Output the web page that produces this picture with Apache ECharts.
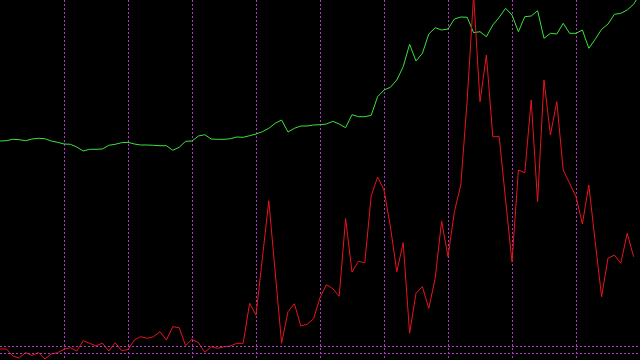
<!DOCTYPE html>
<html>
<head>
<meta charset="utf-8">
<script src="https://cdn.jsdelivr.net/npm/echarts@6/dist/echarts.min.js"></script>
<style>
html,body{margin:0;padding:0;background:#000;}
#chart{width:640px;height:360px;}
</style>
</head>
<body>
<div id="chart"></div>
<script>
// Category positions (index of each sample)
const categories = Array.from({length: 101}, (_, i) => String(i));

// Upper (green) series values
const greenValues = [
  219, 219.3, 220.7, 220.3, 219.3, 221, 221.7, 221.3, 219, 217.7,
  216, 215.7, 213, 209, 210.7, 210.7, 211, 214.7, 215.7, 217.3,
  217.7, 216, 215, 215, 214.7, 214.3, 214.3, 209.7, 212.7, 218.7,
  219, 224, 225.3, 221, 220.7, 220.7, 221.3, 223, 222.7, 224.3,
  226, 228.3, 231.7, 236.7, 240, 228, 231.7, 234, 234, 235,
  235.3, 236, 238.7, 236, 232.3, 245.3, 243.3, 243.3, 244.7, 263.3,
  270, 272.7, 280, 293.3, 315.7, 299, 306.7, 326, 332.3, 330,
  331, 341, 343, 342.7, 327.3, 328.3, 323.3, 335, 342.7, 351.7,
  345, 328.3, 343.3, 344, 349.3, 321.7, 326.7, 326, 336.7, 326.7,
  326.7, 330, 311.7, 320.7, 330.7, 336, 345.7, 346.7, 350, 355.7,
  366
];

// Lower (red) series values
const redValues = [
  11, 11, 4, 2, 7.5, 4.5, 7.5, 1, 6, 7.3,
  10.7, 12.3, 9, 19.3, 16.7, 14, 17, 9, 17.3, 9.3,
  10.5, 20, 23.3, 21.7, 23.3, 28.3, 20, 33.3, 32.3, 14.3,
  20.7, 17.3, 7.7, 13.3, 11.7, 13.3, 14, 16.7, 16.7, 56.7,
  45, 102, 159.3, 88, 16.7, 48.3, 56.3, 34, 35.7, 41.3,
  62.3, 75.3, 71.3, 63.7, 141.5, 88, 98.7, 97.3, 164, 183,
  170, 133.3, 88.3, 117.3, 26.7, 66.7, 73.3, 51.7, 81.7, 139,
  103.3, 148.3, 175, 260, 365, 258.3, 305, 223.3, 223.3, 160,
  98, 190, 187.3, 260, 158.3, 280, 225, 258.3, 190, 176.7,
  163.3, 136, 175, 118.3, 63.3, 101.7, 105, 96.7, 126.7, 103.3,
  null
];

// Horizontal reference levels
const refLevels = [14, 7];

const gridColor = '#b438c8';

const chart = echarts.init(document.getElementById('chart'), null, {renderer: 'canvas'});
chart.setOption({
  backgroundColor: '#000000',
  animation: false,
  grid: {left: 0, right: 0, top: 0, bottom: 0},
  xAxis: {
    type: 'category',
    data: categories,
    boundaryGap: false,
    axisLine: {show: false},
    axisTick: {show: false},
    axisLabel: {show: false},
    splitLine: {
      show: true,
      interval: function (index) { return index > 0 && index < 100 && index % 10 === 0; },
      lineStyle: {color: gridColor, width: 1, type: [2, 2]}
    }
  },
  yAxis: {
    type: 'value',
    min: 0,
    max: 360,
    axisLine: {show: false},
    axisTick: {show: false},
    axisLabel: {show: false},
    splitLine: {show: false}
  },
  series: [
    {
      type: 'line',
      data: greenValues,
      symbol: 'none',
      lineStyle: {color: '#3ce23c', width: 1},
      clip: true,
      z: 3,
      markLine: {
        silent: true,
        symbol: 'none',
        label: {show: false},
        lineStyle: {color: gridColor, width: 1, type: [2, 2]},
        data: refLevels.map(v => ({yAxis: v}))
      }
    },
    {
      type: 'line',
      data: redValues,
      symbol: 'none',
      lineStyle: {color: '#e8141e', width: 1},
      clip: true,
      z: 4
    }
  ]
});
</script>
</body>
</html>
